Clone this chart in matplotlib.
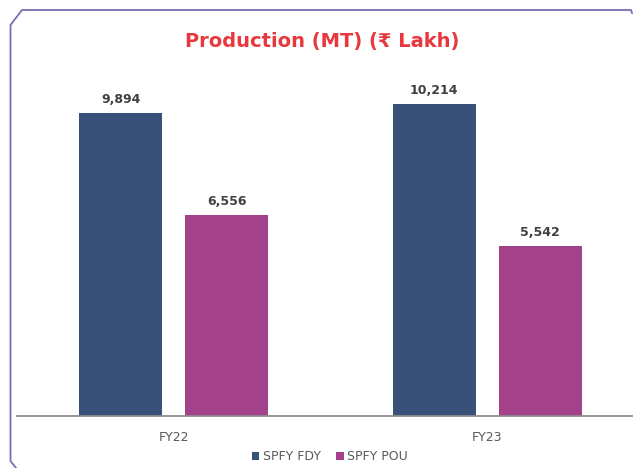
import numpy as np
import matplotlib
matplotlib.use('Agg')
from matplotlib import pyplot as plt
from matplotlib.lines import Line2D

plt.rcParams['font.family'] = ['DejaVu Sans']

years = ['FY22', 'FY23']
series = ['SPFY FDY', 'SPFY POU']
fdy = [9894, 10214]
pou = [6556, 5542]
colors = ['#375179', '#A3418A']

W, H = 633, 468
fig = plt.figure(figsize=(W / 100, H / 100), dpi=100)

# axes placed in pixel terms, right edge runs past the figure like the original
ax = fig.add_axes([17 / W, 52.3 / H, 627 / W, 340.7 / H])

x = np.arange(len(years))
off, bw = 0.169, 0.265
for vals, dx, c, name in [(fdy, -off, colors[0], series[0]), (pou, off, colors[1], series[1])]:
    bars = ax.bar(x + dx, vals, bw, color=c, label=name, zorder=2)
    for b, v in zip(bars, vals):
        ax.annotate(f'{v:,}', (b.get_x() + b.get_width() / 2, v), xytext=(0, 5),
                    textcoords='offset points', ha='center', va='bottom',
                    fontsize=9, fontweight='bold', color='#404040')

ax.set_xlim(-0.5, 1.5)
ax.set_ylim(0, 11150)
ax.set_xticks(x)
ax.set_xticklabels(years, fontsize=9, color='#595959')
ax.tick_params(axis='x', length=0, pad=11)
ax.set_yticks([])
for s in ['top', 'left', 'right']:
    ax.spines[s].set_visible(False)
ax.spines['bottom'].set_color('#8C8C8C')
ax.spines['bottom'].set_linewidth(1.3)
ax.patch.set_alpha(0)

fig.text(322 / W, 1 - 42 / H, 'Production (MT) (₹ Lakh)', ha='center', va='center',
         fontsize=14, fontweight='bold', color='#E8383D')

fig.legend(loc='center', bbox_to_anchor=(330 / W, 1 - 457 / H), ncol=2, frameon=False,
           fontsize=9, handlelength=0.6, handleheight=0.6, handletextpad=0.3,
           columnspacing=1.2, labelcolor='#595959')

# outer card border with clipped corners
px = lambda pts: ([p[0] / W for p in pts], [1 - p[1] / H for p in pts])
xs, ys = px([(16, 468), (10.5, 461), (10.5, 25), (22, 10), (631, 10), (632, 13)])
fig.add_artist(Line2D(xs, ys, transform=fig.transFigure, color='#7E6BB3', lw=1.3))

fig.savefig('out.png', dpi=100)
